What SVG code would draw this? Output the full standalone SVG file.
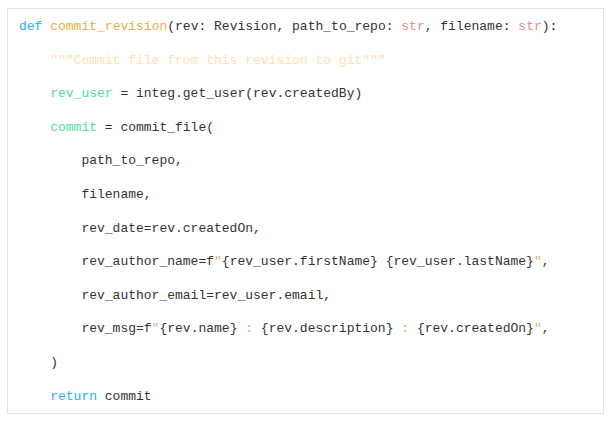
<svg xmlns="http://www.w3.org/2000/svg" width="611" height="423" viewBox="0 0 611 423">
<style>
text{font-family:"Liberation Mono","Courier New",monospace;font-size:13px;fill:#333;white-space:pre}
.kw{fill:#1fb5f2}
.fn{fill:#e5b04c}
.ty{fill:#f28a8a}
.doc{fill:#ffe2b8}
.var{fill:#4fe196}
.str{fill:#e2b275}
</style>
<rect x="0" y="0" width="611" height="423" fill="#ffffff"/>
<g id="code-block">
<rect x="7.5" y="8.5" width="596" height="405" fill="#ffffff" stroke="#e3e3e3" stroke-width="1"/>
<text x="19" y="30" xml:space="preserve"><tspan class="kw">def</tspan> <tspan class="fn">commit_revision</tspan>(rev: Revision, path_to_repo: <tspan class="ty">str</tspan>, filename: <tspan class="ty">str</tspan>):</text>
<text x="50.2" y="63.6" class="doc" xml:space="preserve">"""Commit file from this revision to git"""</text>
<text x="50.2" y="97.2" xml:space="preserve"><tspan class="var">rev_user</tspan> = integ.get_user(rev.createdBy)</text>
<text x="50.2" y="130.8" xml:space="preserve"><tspan class="var">commit</tspan> = commit_file(</text>
<text x="81.4" y="164.4" xml:space="preserve">path_to_repo,</text>
<text x="81.4" y="198" xml:space="preserve">filename,</text>
<text x="81.4" y="231.6" xml:space="preserve">rev_date=rev.createdOn,</text>
<text x="81.4" y="265.2" xml:space="preserve">rev_author_name=f<tspan class="str">"</tspan>{rev_user.firstName}<tspan class="str"> </tspan>{rev_user.lastName}<tspan class="str">"</tspan>,</text>
<text x="81.4" y="298.8" xml:space="preserve">rev_author_email=rev_user.email,</text>
<text x="81.4" y="332.4" xml:space="preserve">rev_msg=f<tspan class="str">"</tspan>{rev.name}<tspan class="str"> : </tspan>{rev.description}<tspan class="str"> : </tspan>{rev.createdOn}<tspan class="str">"</tspan>,</text>
<text x="50.2" y="366" xml:space="preserve">)</text>
<text x="50.2" y="399.6" xml:space="preserve"><tspan class="kw">return</tspan> commit</text>
</g>
</svg>
